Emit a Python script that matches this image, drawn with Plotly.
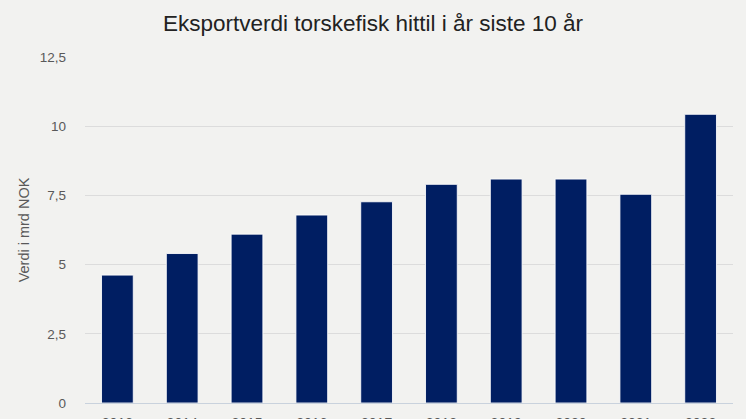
import plotly.graph_objects as go

years = ["2013", "2014", "2015", "2016", "2017", "2018", "2019", "2020", "2021", "2022"]
values = [4.62, 5.40, 6.10, 6.79, 7.27, 7.90, 8.09, 8.09, 7.54, 10.43]
tick_vals = [0, 2.5, 5, 7.5, 10, 12.5]

bg = "#f2f2f0"

fig = go.Figure(
    go.Bar(
        x=years,
        y=values,
        marker=dict(color="#001e62", line=dict(color="rgba(255,255,255,0.85)", width=1)),
        hoverinfo="x+y",
    )
)

fig.update_layout(
    width=746,
    height=419,
    paper_bgcolor=bg,
    plot_bgcolor=bg,
    separators=", ",
    bargap=0.51,
    margin=dict(l=85, r=13, t=57, b=16),
    font=dict(family="Liberation Sans, Arial, sans-serif", color="#595959", size=13),
    title=dict(
        text="Eksportverdi torskefisk hittil i år siste 10 år",
        x=0.5,
        xanchor="center",
        y=0.945,
        yanchor="middle",
        font=dict(size=22.5, color="#222222"),
    ),
    showlegend=False,
)

fig.update_yaxes(
    range=[0, 12.5],
    tickvals=tick_vals,
    showgrid=True,
    gridcolor="#dcdcdc",
    gridwidth=1,
    zeroline=False,
    showline=False,
    ticks="",
    ticklabelstandoff=18,
    tickfont=dict(size=13.5, color="#595959"),
    title=dict(text="Verdi i mrd NOK", font=dict(size=14.5, color="#595959"), standoff=6),
    automargin=False,
)

fig.update_xaxes(
    showline=True,
    linecolor="#c9d2dd",
    linewidth=1,
    ticks="",
    ticklabelstandoff=7,
    tickfont=dict(size=14, color="#595959"),
    automargin=False,
)

fig.write_html("out.html")
